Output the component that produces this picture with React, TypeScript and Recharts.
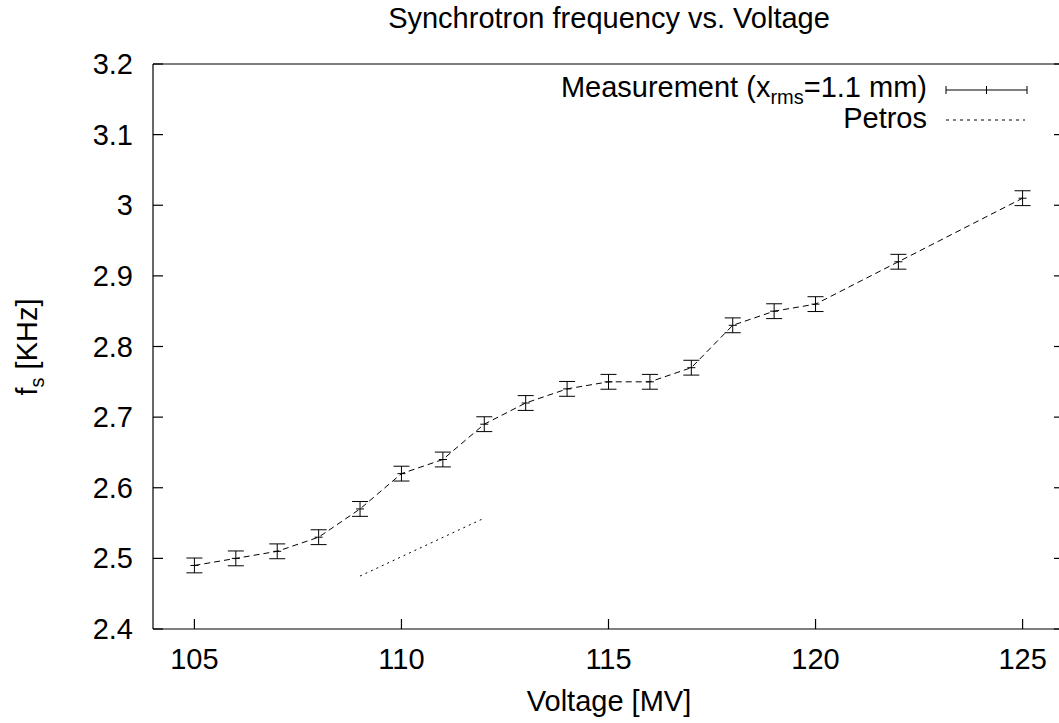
import React from 'react';
import { ComposedChart, Line, XAxis, YAxis, ErrorBar } from 'recharts';

// ---- data ----
const voltages = [105, 106, 107, 108, 109, 110, 111, 112, 113, 114, 115, 116, 117, 118, 119, 120, 122, 125];
const frequencies = [2.49, 2.5, 2.51, 2.53, 2.57, 2.62, 2.64, 2.69, 2.72, 2.74, 2.75, 2.75, 2.77, 2.83, 2.85, 2.86, 2.92, 3.01];
const errors = [0.0105, 0.0105, 0.0105, 0.0105, 0.0105, 0.0105, 0.0105, 0.0105, 0.0105, 0.0105, 0.0105, 0.0105, 0.0105, 0.0105, 0.0105, 0.0105, 0.0105, 0.0105];
const petrosVoltages = [109, 112];
const petrosFrequencies = [2.475, 2.557];
const xTicks = [105, 110, 115, 120, 125];
const yTicks = [2.4, 2.5, 2.6, 2.7, 2.8, 2.9, 3.0, 3.1, 3.2];
const xDomain = [104, 126];
const yDomain = [2.4, 3.2];
const titleText = 'Synchrotron frequency vs. Voltage';
const xLabelText = 'Voltage [MV]';

const measurement = voltages.map((v, i) => ({ v, f: frequencies[i], err: errors[i] }));
const petros = petrosVoltages.map((v, i) => ({ v, f: petrosFrequencies[i] }));

const FONT = '"Liberation Sans", Arial, Helvetica, sans-serif';
const FS = 29;

const BottomTick = (p: any) => (
  <g>
    <line x1={p.x} y1={p.y} x2={p.x} y2={p.y - 10} stroke="#000" strokeWidth={1.2} />
    <text x={p.x} y={p.y + 40} textAnchor="middle" fontFamily={FONT} fontSize={FS} fill="#000">
      {p.payload.value}
    </text>
  </g>
);
const TopTick = (p: any) => (
  <line x1={p.x} y1={p.y} x2={p.x} y2={p.y + 10} stroke="#000" strokeWidth={1.2} />
);
const LeftTick = (p: any) => (
  <g>
    <line x1={p.x} y1={p.y} x2={p.x + 10} y2={p.y} stroke="#000" strokeWidth={1.2} />
    <text x={p.x - 20} y={p.y + 10} textAnchor="end" fontFamily={FONT} fontSize={FS} fill="#000">
      {String(Number(Number(p.payload.value).toFixed(1)))}
    </text>
  </g>
);
const RightTick = (p: any) => (
  <line x1={p.x} y1={p.y} x2={p.x - 10} y2={p.y} stroke="#000" strokeWidth={1.2} />
);

const PlusDot = (p: any) => {
  if (p.cx == null || p.cy == null) return <g key={p.key} />;
  return <line key={p.key} x1={p.cx - 4} y1={p.cy} x2={p.cx + 4} y2={p.cy} stroke="#000" strokeWidth={1} />;
};

const Decorations = () => (
  <g fontFamily={FONT} fill="#000">
    <text x={609} y={28} textAnchor="middle" fontSize={FS}>{titleText}</text>
    <text x={609} y={711} textAnchor="middle" fontSize={FS}>{xLabelText}</text>
    <text x={37} y={347} textAnchor="middle" fontSize={FS} transform="rotate(-90, 37, 347)">
      f<tspan dy={7} fontSize={20}>s</tspan><tspan dy={-7}> [KHz]</tspan>
    </text>
    <text x={927} y={97} textAnchor="end" fontSize={FS}>
      Measurement (x<tspan dy={7} fontSize={20}>rms</tspan><tspan dy={-7}>=1.1 mm)</tspan>
    </text>
    <line x1={946} y1={90} x2={1027} y2={90} stroke="#000" strokeWidth={1} />
    <line x1={946} y1={86} x2={946} y2={94} stroke="#000" strokeWidth={1} />
    <line x1={1027} y1={86} x2={1027} y2={94} stroke="#000" strokeWidth={1} />
    <line x1={986.5} y1={86} x2={986.5} y2={94} stroke="#000" strokeWidth={1} />
    <text x={927} y={128} textAnchor="end" fontSize={FS}>Petros</text>
    <line x1={946} y1={120} x2={1025} y2={120} stroke="#000" strokeWidth={1} strokeDasharray="3 4" />
  </g>
);

export default function App() {
  return (
    <div style={{ position: 'absolute', left: 0, top: 0, width: 1059, height: 723, overflow: 'hidden', background: '#fff' }}>
      <ComposedChart width={1100} height={723} margin={{ top: 34, right: 6, bottom: 64, left: 93 }}>
        <XAxis
          dataKey="v"
          type="number"
          domain={xDomain}
          ticks={xTicks}
          allowDataOverflow
          height={30}
          tickSize={0}
          tickMargin={0}
          tickLine={false}
          axisLine={{ stroke: '#000', strokeWidth: 1.2 }}
          tick={<BottomTick />}
          label={() => <Decorations />}
        />
        <XAxis
          xAxisId="top"
          orientation="top"
          type="number"
          domain={xDomain}
          ticks={xTicks}
          allowDataOverflow
          height={30}
          tickSize={0}
          tickMargin={0}
          tickLine={false}
          axisLine={{ stroke: '#000', strokeWidth: 1.2 }}
          tick={<TopTick />}
        />
        <YAxis
          type="number"
          domain={yDomain}
          ticks={yTicks}
          allowDataOverflow
          width={60}
          tickSize={0}
          tickMargin={0}
          tickLine={false}
          axisLine={{ stroke: '#000', strokeWidth: 1.2 }}
          tick={<LeftTick />}
        />
        <YAxis
          yAxisId="right"
          orientation="right"
          type="number"
          domain={yDomain}
          ticks={yTicks}
          allowDataOverflow
          width={30}
          tickSize={0}
          tickMargin={0}
          tickLine={false}
          axisLine={{ stroke: '#000', strokeWidth: 1.2 }}
          tick={<RightTick />}
        />
        <Line
          data={measurement}
          dataKey="f"
          stroke="#000"
          strokeWidth={1}
          strokeDasharray="6 4"
          dot={PlusDot}
          activeDot={false}
          isAnimationActive={false}
        >
          <ErrorBar dataKey="err" direction="y" width={8} stroke="#000" strokeWidth={1} isAnimationActive={false} />
        </Line>
        <Line
          data={petros}
          dataKey="f"
          stroke="#000"
          strokeWidth={1}
          strokeDasharray="2 4"
          dot={false}
          activeDot={false}
          isAnimationActive={false}
        />
      </ComposedChart>
    </div>
  );
}
